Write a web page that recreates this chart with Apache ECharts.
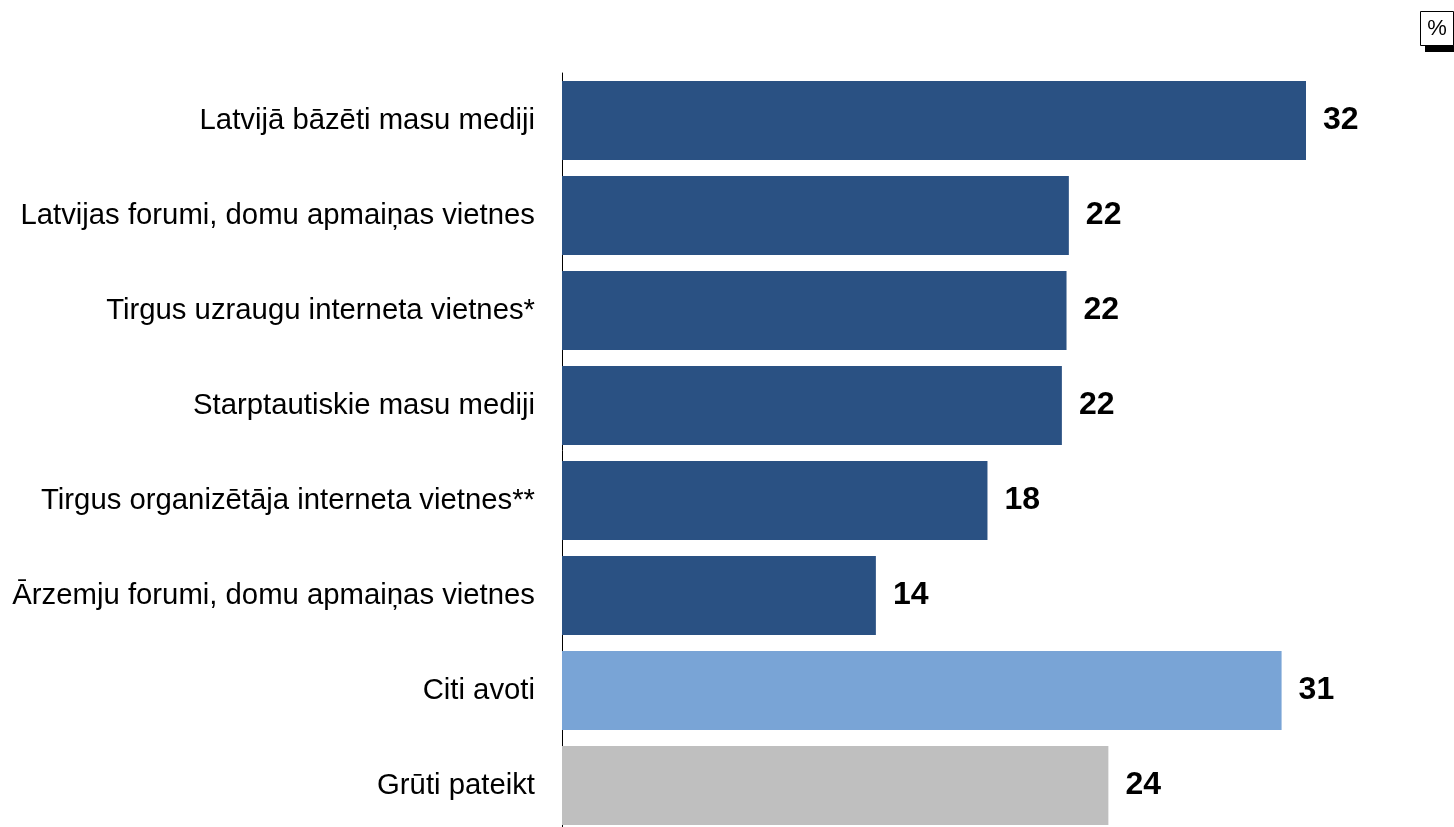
<!DOCTYPE html>
<html><head><meta charset="utf-8">
<script src="https://cdn.jsdelivr.net/npm/echarts@6/dist/echarts.min.js"></script>
<style>html,body{margin:0;padding:0;background:#fff;}#c{width:1454px;height:827px;}</style>
</head><body><div id="c"></div>
<script>
const categories = ["Latvijā bāzēti masu mediji","Latvijas forumi, domu apmaiņas vietnes","Tirgus uzraugu interneta vietnes*","Starptautiskie masu mediji","Tirgus organizētāja interneta vietnes**","Ārzemju forumi, domu apmaiņas vietnes","Citi avoti","Grūti pateikt"];
const values = [32.0, 21.8, 21.7, 21.5, 18.3, 13.5, 30.95, 23.5];
const colors = ["#2A5183","#2A5183","#2A5183","#2A5183","#2A5183","#2A5183","#79A4D6","#BFBFBF"];
const unitLabel = "%";

const chart = echarts.init(document.getElementById('c'));
chart.setOption({
  animation:false,
  grid:{left:562, top:73, width:930, height:760, containLabel:false, outerBoundsMode:'none'},
  xAxis:{type:'value', min:0, max:40, show:false},
  yAxis:{type:'category', data:categories, inverse:true,
    axisLine:{show:true, lineStyle:{color:'#000', width:1}},
    axisTick:{show:false},
    axisLabel:{margin:27, color:'#000', fontSize:29.3, lineHeight:36, padding:[3,0,0,0], fontFamily:'Liberation Sans, Arial, sans-serif'}},
  series:[{type:'bar', barCategoryGap:'17%',
    data: values.map((v,i)=>({value:v, itemStyle:{color:colors[i]}})),
    label:{show:true, position:'right', distance:17, color:'#000', fontSize:32, fontWeight:'bold', padding:[3,0,0,0],
      fontFamily:'Liberation Sans, Arial, sans-serif', formatter:p=>Math.round(p.value)}
  }],
  graphic:[
    {type:'rect', shape:{x:1425, y:44, width:29, height:8}, style:{fill:'#000'}},
    {type:'rect', shape:{x:1420.5, y:11.5, width:33, height:34}, style:{fill:'#fff', stroke:'#000', lineWidth:1}},
    {type:'text', x:1437, y:29, style:{text:unitLabel, fill:'#000', font:'22px Liberation Sans, Arial, sans-serif', align:'center', verticalAlign:'middle'}}
  ]
});
</script></body></html>
